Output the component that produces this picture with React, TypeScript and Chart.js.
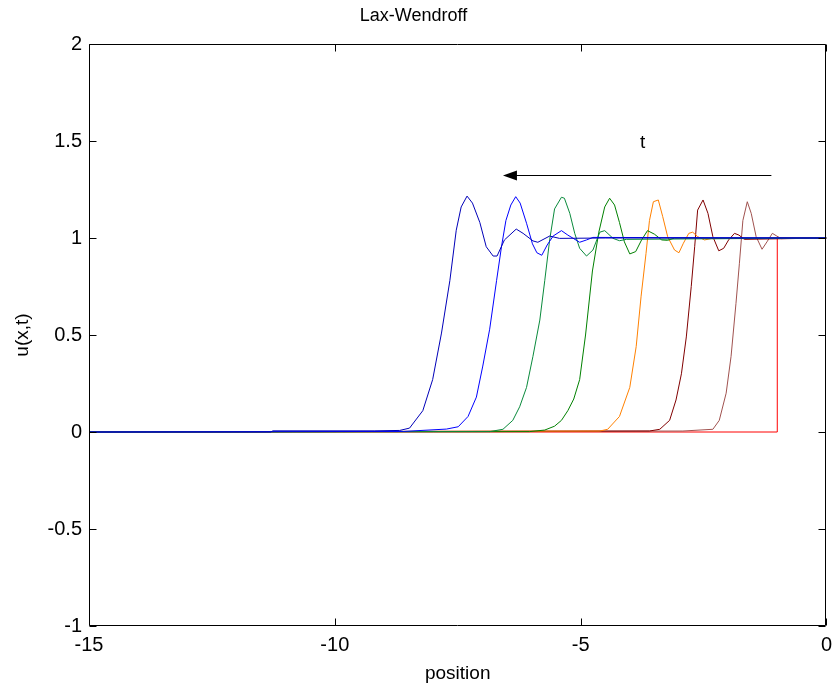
import React, { useEffect, useRef } from 'react';
import { Chart, registerables } from 'chart.js';

Chart.register(...registerables);

// ---- Axis ticks ----
const xTicks = [-15, -10, -5, 0];
const yTicks = [-1, -0.5, 0, 0.5, 1, 1.5, 2];

// ---- Curves, x = position, y = u(x,t) ----
// latest time (leftmost), dark blue
const xT7 = [-15, -11.3, -11.26, -9.2, -8.68, -8.48, -8.21, -8.01, -7.83, -7.66, -7.53, -7.43, -7.31, -7.2, -7.05, -6.92, -6.78, -6.7, -6.55, -6.31, -6.17, -5.97, -5.87, -5.63, -5.43, -4.5, 0];
const yT7 = [0, 0, 0.006, 0.006, 0.008, 0.02, 0.11, 0.27, 0.51, 0.78, 1.04, 1.16, 1.216, 1.18, 1.08, 0.955, 0.907, 0.907, 0.99, 1.046, 1.024, 0.985, 0.978, 1.01, 0.998, 1.0, 1.0];
// blue
const xT6 = [-15, -8.6, -7.73, -7.49, -7.29, -7.12, -6.99, -6.85, -6.71, -6.61, -6.52, -6.42, -6.32, -6.23, -6.1, -5.98, -5.89, -5.79, -5.68, -5.56, -5.39, -5.26, -5.02, -4.88, -4.75, 0];
const yT6 = [0, 0.003, 0.015, 0.027, 0.08, 0.18, 0.34, 0.53, 0.78, 0.955, 1.09, 1.17, 1.213, 1.18, 1.076, 0.97, 0.924, 0.911, 0.964, 1.01, 1.038, 1.015, 0.978, 0.99, 1.003, 1.0];
// green (left)
const xT5 = [-15, -6.85, -6.58, -6.38, -6.24, -6.1, -5.97, -5.83, -5.73, -5.63, -5.53, -5.39, -5.33, -5.22, -5.12, -5.02, -4.88, -4.75, -4.61, -4.51, -4.34, -4.21, -4.07, 0];
const yT5 = [0, 0.002, 0.014, 0.06, 0.13, 0.23, 0.39, 0.577, 0.78, 0.99, 1.15, 1.21, 1.205, 1.127, 1.024, 0.947, 0.907, 0.938, 1.03, 1.038, 0.998, 0.986, 0.993, 1.0];
// green (right)
const xT4 = [-15, -6.04, -5.73, -5.53, -5.39, -5.26, -5.14, -5.02, -4.9, -4.76, -4.63, -4.51, -4.41, -4.31, -4.21, -4.11, -4.0, -3.88, -3.76, -3.64, -3.5, -3.35, -3.23, -3.09, 0];
const yT4 = [0, 0.002, 0.01, 0.03, 0.06, 0.11, 0.17, 0.27, 0.5, 0.83, 1.03, 1.16, 1.205, 1.17, 1.08, 0.98, 0.918, 0.93, 0.99, 1.038, 1.02, 0.99, 0.988, 1.0, 1.0];
// orange
const xT3 = [-15, -4.61, -4.45, -4.21, -4.0, -3.87, -3.77, -3.67, -3.6, -3.52, -3.42, -3.33, -3.23, -3.09, -3.0, -2.91, -2.8, -2.72, -2.62, -2.48, -2.34, 0];
const yT3 = [0, 0.005, 0.014, 0.08, 0.23, 0.44, 0.7, 0.92, 1.09, 1.187, 1.196, 1.11, 1.007, 0.938, 0.924, 0.973, 1.024, 1.03, 1.007, 0.99, 0.997, 1.0];
// dark red
const xT2 = [-15, -3.6, -3.39, -3.19, -3.06, -2.95, -2.85, -2.75, -2.68, -2.62, -2.51, -2.41, -2.31, -2.19, -2.09, -1.99, -1.87, -1.78, -1.67, 0];
const yT2 = [0, 0.005, 0.014, 0.06, 0.165, 0.3, 0.49, 0.75, 0.955, 1.144, 1.196, 1.127, 1.007, 0.934, 0.947, 0.99, 1.024, 1.015, 0.993, 1.0];
// rosy brown
const xT1 = [-15, -2.92, -2.31, -2.18, -2.04, -1.94, -1.84, -1.77, -1.7, -1.61, -1.53, -1.43, -1.31, -1.21, -1.1, -1.01, -0.92, 0];
const yT1 = [0, 0.005, 0.014, 0.06, 0.2, 0.39, 0.663, 0.87, 1.09, 1.187, 1.127, 1.007, 0.942, 0.98, 1.024, 1.01, 0.997, 1.0];
// initial step, red
const xT0 = [-15, -1.0, -1.0, 0];
const yT0 = [0, 0, 1, 1];

// drawing order: first listed is drawn on top
const curveXs = [xT7, xT6, xT5, xT4, xT3, xT2, xT1, xT0];
const curveYs = [yT7, yT6, yT5, yT4, yT3, yT2, yT1, yT0];
const curveNames = ['t7', 't6', 't5', 't4', 't3', 't2', 't1', 't0'];
const curveColors = ['#0000b8', '#0000ff', '#0a8a3c', '#008000', '#ff8000', '#800000', '#a0524f', '#ff0000'];

// annotation (data units)
const arrowFromX = -1.12;
const arrowToX = -6.58;
const arrowY = 1.325;
const tLabelX = -3.74;
const tLabelY = 1.49;

const FONT = "'Liberation Sans', Arial, Helvetica, sans-serif";

const framePlugin = {
  id: 'matlabFrame',
  afterDraw(chart: any) {
    const { ctx, chartArea: a, scales } = chart;
    const xs = scales.x;
    const ys = scales.y;
    const L = Math.round(a.left) + 0.5;
    const R = Math.round(a.right) - 0.5;
    const T = Math.round(a.top) + 0.5;
    const B = Math.round(a.bottom) - 0.5;
    ctx.save();
    ctx.strokeStyle = '#000';
    ctx.lineWidth = 1;
    ctx.beginPath();
    ctx.rect(L, T, R - L, B - T);
    const tl = 7;
    xTicks.forEach((v) => {
      const p = Math.round(xs.getPixelForValue(v)) + 0.5;
      ctx.moveTo(p, B); ctx.lineTo(p, B - tl);
      ctx.moveTo(p, T); ctx.lineTo(p, T + tl);
    });
    yTicks.forEach((v) => {
      const p = Math.round(ys.getPixelForValue(v)) + 0.5;
      ctx.moveTo(L, p); ctx.lineTo(L + tl, p);
      ctx.moveTo(R, p); ctx.lineTo(R - tl, p);
    });
    ctx.stroke();

    // arrow
    const ax0 = xs.getPixelForValue(arrowFromX);
    const ax1 = xs.getPixelForValue(arrowToX);
    const ay = Math.round(ys.getPixelForValue(arrowY)) + 0.5;
    ctx.beginPath();
    ctx.moveTo(ax0, ay);
    ctx.lineTo(ax1 + 12, ay);
    ctx.stroke();
    ctx.fillStyle = '#000';
    ctx.beginPath();
    ctx.moveTo(ax1, ay);
    ctx.lineTo(ax1 + 14, ay - 5);
    ctx.lineTo(ax1 + 14, ay + 5);
    ctx.closePath();
    ctx.fill();

    ctx.font = `19px ${FONT}`;
    ctx.textAlign = 'center';
    ctx.textBaseline = 'middle';
    ctx.fillText('t', xs.getPixelForValue(tLabelX), ys.getPixelForValue(tLabelY));
    ctx.restore();
  },
};

export default function App() {
  const ref = useRef<HTMLCanvasElement | null>(null);
  useEffect(() => {
    if (!ref.current) return;
    const datasets = curveXs.map((xsArr, i) => ({
      label: curveNames[i],
      data: xsArr.map((x, j) => ({ x, y: curveYs[i][j] })),
      borderColor: curveColors[i],
      backgroundColor: curveColors[i],
      borderWidth: 1,
      pointRadius: 0,
      tension: 0,
      fill: false,
    }));
    const chart = new Chart(ref.current, {
      type: 'line',
      data: { datasets },
      options: {
        animation: false,
        responsive: false,
        maintainAspectRatio: false,
        parsing: true,
        layout: { padding: { left: 0, right: 12, top: 0, bottom: 0 } },
        plugins: {
          legend: { display: false },
          tooltip: { enabled: false },
          title: {
            display: true,
            text: 'Lax-Wendroff',
            color: '#000',
            font: { family: FONT, size: 18, weight: 'normal' },
            padding: { top: 5, bottom: 17.4 },
          },
        },
        scales: {
          x: {
            type: 'linear',
            min: -15,
            max: 0,
            afterBuildTicks: (s: any) => { s.ticks = xTicks.map((v) => ({ value: v })); },
            afterFit: (s: any) => { s.height = 67; },
            grid: { display: false, drawTicks: false },
            border: { display: false },
            ticks: { color: '#000', font: { family: FONT, size: 20 }, padding: 7, maxRotation: 0, callback: (v: any) => String(v) },
            title: { display: true, text: 'position', color: '#000', font: { family: FONT, size: 19 }, padding: { top: 0, bottom: 8 } },
          },
          y: {
            type: 'linear',
            min: -1,
            max: 2,
            afterBuildTicks: (s: any) => { s.ticks = yTicks.map((v) => ({ value: v })); },
            afterFit: (s: any) => { s.width = 89; },
            grid: { display: false, drawTicks: false },
            border: { display: false },
            ticks: { color: '#000', font: { family: FONT, size: 20 }, padding: 7, callback: (v: any) => String(v) },
            title: { display: true, text: 'u(x,t)', color: '#000', font: { family: FONT, size: 19 }, padding: { top: 11, bottom: 0 } },
          },
        },
      },
      plugins: [framePlugin],
    });
    return () => chart.destroy();
  }, []);
  return (
    <div style={{ position: 'absolute', left: 0, top: 0, width: 839, height: 693, background: '#fff' }}>
      <canvas ref={ref} width={839} height={693} style={{ display: 'block' }} />
    </div>
  );
}
